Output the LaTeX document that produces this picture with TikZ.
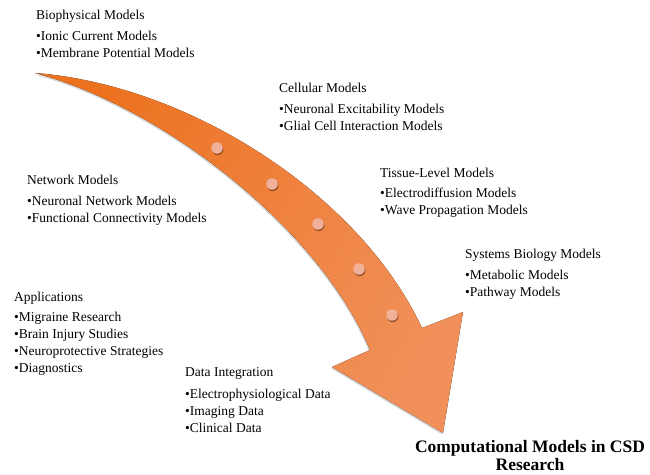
\documentclass[tikz,border=0pt]{standalone}
\usepackage{fontspec}
\setmainfont{Liberation Serif}
\usepackage{tikz}
\usetikzlibrary{shadows}
\definecolor{arrowA}{HTML}{EC7220}
\definecolor{arrowB}{HTML}{F1905A}
\definecolor{dotfill}{HTML}{F0B09A}

\begin{document}
\begin{tikzpicture}[x=1pt, y=-1pt, grp/.style = {anchor=north west, align=left, inner sep=0pt, font=\fontsize{13.5}{17}\selectfont}, dot/.style = {circle, fill=dotfill, inner sep=0pt, minimum size=11.5pt, drop shadow={opacity=0.55, fill=black!70!arrowA, shadow xshift=0.7pt, shadow yshift=-1.4pt}}, title/.style = {anchor=north, align=center, inner sep=0pt, font=\fontsize{17.5}{18.5}\selectfont\bfseries}]
                \useasboundingbox (0,0) rectangle (650,474);
                \coordinate (tail) at (35,73);
                \coordinate (rnotch) at (422,328);
                \coordinate (rbarb) at (463,312);
                \coordinate (tip) at (443,433);
                \coordinate (lbarb) at (332,367);
                \coordinate (lnotch) at (370,350);
                \fill[left color=arrowA, right color=arrowB, shading angle=60, drop shadow={opacity=0.3, shadow xshift=-1pt, shadow yshift=-1.5pt}] (tail) .. controls (190,85) and (360,195) .. (rnotch) -- (rbarb) -- (tip) -- (lbarb) -- (lnotch) .. controls (320,230) and (165,108) .. (tail) -- cycle;
                \foreach \i/\p in {1/{(217,148)}, 2/{(272,184)}, 3/{(318,224)}, 4/{(359,269)}, 5/{(392,315)}}
                    \node[dot] (dot\i) at \p {};
                \node[grp] (bio) at (36,10) {Biophysical Models\\[4pt]•Ionic Current Models\\•Membrane Potential Models};
                \node[grp] (cell) at (279,83) {Cellular Models\\[4pt]•Neuronal Excitability Models\\•Glial Cell Interaction Models};
                \node[grp] (net) at (27,175) {Network Models\\[4pt]•Neuronal Network Models\\•Functional Connectivity Models};
                \node[grp] (tissue) at (380,168) {Tissue-Level Models\\[3pt]•Electrodiffusion Models\\•Wave Propagation Models};
                \node[grp] (sys) at (465,249) {Systems Biology Models\\[4pt]•Metabolic Models\\•Pathway Models};
                \node[grp] (apps) at (14,292) {Applications\\[3pt]•Migraine Research\\•Brain Injury Studies\\•Neuroprotective Strategies\\•Diagnostics};
                \node[grp] (data) at (185,367) {Data Integration\\[5pt]•Electrophysiological Data\\•Imaging Data\\•Clinical Data};
                \node[title] (csd) at (530,440) {Computational Models in CSD\\Research};
            \end{tikzpicture}
\end{document}
